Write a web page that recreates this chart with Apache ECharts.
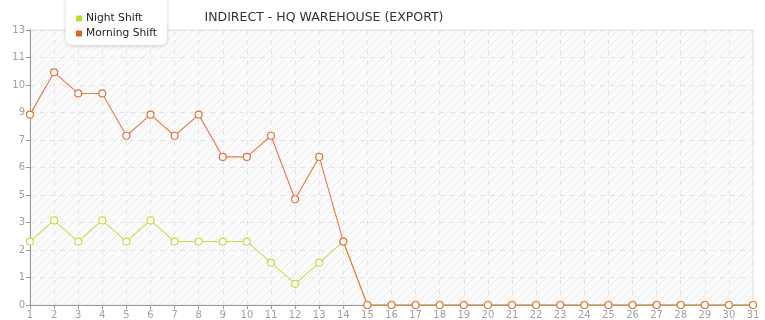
<!DOCTYPE html>
<html>
<head>
<meta charset="utf-8">
<script src="https://cdn.jsdelivr.net/npm/echarts@6/dist/echarts.min.js"></script>
<style>
html,body{margin:0;padding:0;background:#fff;}
#c{width:765px;height:320px;}
</style>
</head>
<body>
<div id="c"></div>
<script>
const titleText = 'INDIRECT - HQ WAREHOUSE (EXPORT)';
const days = ['1','2','3','4','5','6','7','8','9','10','11','12','13','14','15','16','17','18','19','20','21','22','23','24','25','26','27','28','29','30','31'];
const nightShift = [3,4,3,4,3,4,3,3,3,3,2,1,2,3,0,0,0,0,0,0,0,0,0,0,0,0,0,0,0,0,0];
const morningShift = [9,11,10,10,8,9,8,9,7,7,8,5,7,3,0,0,0,0,0,0,0,0,0,0,0,0,0,0,0,0,0];
const seriesNames = ['Night Shift','Morning Shift'];
const seriesColors = ['#bcdc2c','#e0622a'];

// hatch pattern
const pc = document.createElement('canvas');
pc.width = 8; pc.height = 8;
const px = pc.getContext('2d');
px.fillStyle = '#fbfbfb';
px.fillRect(0,0,8,8);
px.strokeStyle = '#ececec';
px.lineWidth = 1;
px.beginPath();
px.moveTo(-1,9); px.lineTo(9,-1);
px.moveTo(-5,5); px.lineTo(5,-5);
px.moveTo(3,13); px.lineTo(13,3);
px.stroke();

const chart = echarts.init(document.getElementById('c'), null, {renderer:'canvas'});
chart.setOption({
  animation:false,
  backgroundColor:'#fff',
  title:{
    text:titleText, left:319, top:6, textAlign:'center',
    textStyle:{fontFamily:'DejaVu Sans', fontSize:12.5, fontWeight:'normal', color:'#333'}
  },
  legend:{
    orient:'vertical', left:66, top:-6,
    padding:[19,10,6,10],
    itemGap:4,
    itemWidth:6, itemHeight:6,
    icon:'rect',
    backgroundColor:'#fff',
    borderRadius:6,
    shadowColor:'rgba(0,0,0,0.18)', shadowBlur:4, shadowOffsetY:1,
    textStyle:{fontFamily:'DejaVu Sans', fontSize:10.7, color:'#222', padding:[0,0,0,-1]},
    data:seriesNames.map(function(n,i){return {name:n, itemStyle:{color:seriesColors[i], borderWidth:0}};})
  },
  grid:{
    left:30, right:12, top:30, bottom:15,
    show:true, backgroundColor:{image:pc, repeat:'repeat'},
    borderColor:'#e2e2e2', borderWidth:1
  },
  xAxis:{
    type:'category', data:days, boundaryGap:false,
    axisLine:{lineStyle:{color:'#999'}},
    axisTick:{alignWithLabel:true, length:4, lineStyle:{color:'#999'}},
    axisLabel:{fontFamily:'DejaVu Sans', fontSize:10, color:'#a0a0a0', margin:5, interval:0},
    splitLine:{show:true, lineStyle:{color:'#e4e4e4', type:[5,5]}}
  },
  yAxis:{
    type:'value', min:0, max:13, interval:1.3,
    axisLine:{show:true, lineStyle:{color:'#999'}},
    axisTick:{show:true, length:4, lineStyle:{color:'#999'}},
    axisLabel:{fontFamily:'DejaVu Sans', fontSize:10, color:'#a0a0a0', margin:5,
      formatter:function(v){return String(Math.floor(v+1e-9));}},
    splitLine:{show:true, lineStyle:{color:'#e4e4e4', type:[5,5]}}
  },
  series:[
    {name:seriesNames[0], type:'line', data:nightShift, symbol:'circle', symbolSize:7,
      color:seriesColors[0],
      lineStyle:{width:1.1, color:'#c4df4f'},
      itemStyle:{color:'#fff', borderColor:'#c2de45', borderWidth:1.2}, z:2},
    {name:seriesNames[1], type:'line', data:morningShift, symbol:'circle', symbolSize:7,
      color:seriesColors[1],
      lineStyle:{width:1.1, color:'#e8794a'},
      itemStyle:{color:'#fff', borderColor:'#e2723c', borderWidth:1.2}, z:3}
  ]
});
</script>
</body>
</html>
